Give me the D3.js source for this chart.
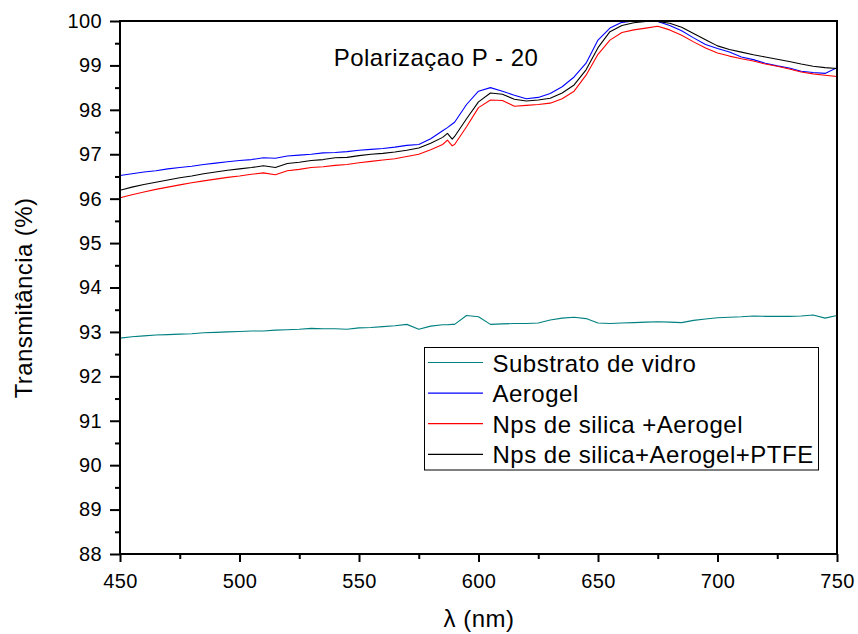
<!DOCTYPE html>
<html>
<head>
<meta charset="utf-8">
<script src="https://cdn.jsdelivr.net/npm/d3@7/dist/d3.min.js"></script>
<style>
  html, body { margin: 0; padding: 0; background: #fff; }
  svg { display: block; font-family: "Liberation Sans", Arial, Helvetica, sans-serif; }
</style>
</head>
<body>
<svg id="chart" width="858" height="634"></svg>
<script>
// Wavelength grid (nm) shared by every spectrum
const wavelength = [
  450,455,460,465,470,475,480,485,490,495,
  500,505,510,515,520,525,530,535,540,545,
  550,555,560,565,570,575,580,585,587,589,
  590,595,600,605,610,615,620,625,630,635,
  640,645,650,655,660,665,670,675,680,685,
  690,695,700,705,710,715,720,725,730,735,
  740,745,750
];

// Transmittance (%) for each sample
const substrato = [
  92.86,92.89,92.91,92.93,92.94,92.95,92.96,92.98,92.99,93.00,
  93.01,93.02,93.02,93.04,93.05,93.06,93.08,93.07,93.07,93.06,
  93.09,93.10,93.12,93.14,93.17,93.06,93.13,93.16,93.16,93.17,
  93.17,93.37,93.34,93.17,93.18,93.19,93.19,93.20,93.27,93.31,
  93.33,93.30,93.20,93.19,93.20,93.21,93.22,93.23,93.22,93.21,
  93.26,93.29,93.32,93.33,93.34,93.36,93.35,93.35,93.35,93.36,
  93.38,93.31,93.37
];
const aerogel = [
  96.52,96.56,96.60,96.63,96.67,96.70,96.73,96.77,96.80,96.83,
  96.86,96.88,96.92,96.91,96.96,96.98,97.00,97.03,97.04,97.06,
  97.09,97.11,97.13,97.16,97.20,97.22,97.35,97.53,97.60,97.68,
  97.72,98.12,98.42,98.50,98.42,98.33,98.25,98.28,98.37,98.52,
  98.74,99.05,99.57,99.84,99.97,100.0,100.0,99.99,99.90,99.78,
  99.62,99.47,99.38,99.30,99.19,99.13,99.05,98.99,98.94,98.87,
  98.84,98.82,98.95
];
const npsAerogel = [
  96.02,96.09,96.15,96.21,96.26,96.31,96.36,96.40,96.44,96.48,
  96.51,96.55,96.58,96.54,96.63,96.66,96.70,96.72,96.75,96.77,
  96.81,96.84,96.87,96.90,96.95,97.00,97.10,97.22,97.32,97.19,
  97.22,97.62,98.05,98.22,98.21,98.08,98.10,98.12,98.15,98.25,
  98.42,98.78,99.25,99.57,99.74,99.80,99.84,99.88,99.80,99.68,
  99.53,99.39,99.28,99.21,99.15,99.10,99.03,98.98,98.92,98.85,
  98.81,98.78,98.75
];
const npsAerogelPtfe = [
  96.19,96.26,96.32,96.37,96.42,96.47,96.51,96.56,96.60,96.64,
  96.67,96.70,96.74,96.70,96.79,96.82,96.86,96.88,96.92,96.93,
  96.97,97.00,97.02,97.05,97.09,97.14,97.25,97.38,97.47,97.34,
  97.40,97.80,98.18,98.38,98.35,98.24,98.20,98.22,98.26,98.38,
  98.56,98.90,99.40,99.76,99.90,99.96,99.99,99.99,99.95,99.86,
  99.72,99.58,99.44,99.36,99.30,99.24,99.19,99.14,99.09,99.03,
  98.98,98.95,98.93
];

const seriesNames = ["Substrato de vidro", "Aerogel", "Nps de silica +Aerogel", "Nps de silica+Aerogel+PTFE"];
const seriesColors = ["#008080", "#0000ff", "#ff0000", "#000000"];
const seriesValues = [substrato, aerogel, npsAerogel, npsAerogelPtfe];

const xTicks = [450, 500, 550, 600, 650, 700, 750];
const xMinorTicks = [475, 525, 575, 625, 675, 725];
const yTicks = [88, 89, 90, 91, 92, 93, 94, 95, 96, 97, 98, 99, 100];
const yMinorTicks = [88.5, 89.5, 90.5, 91.5, 92.5, 93.5, 94.5, 95.5, 96.5, 97.5, 98.5, 99.5];

const titleText = "Polarizaçao P - 20";
const xLabel = "λ (nm)";
const yLabel = "Transmitância (%)";

// Layout
const plot = { left: 120, right: 837, top: 21, bottom: 554 };
const svg = d3.select("#chart");

const x = d3.scaleLinear().domain([450, 750]).range([plot.left, plot.right]);
const y = d3.scaleLinear().domain([88, 100]).range([plot.bottom, plot.top]);

svg.append("defs").append("clipPath").attr("id", "plotClip")
  .append("rect")
  .attr("x", plot.left).attr("y", plot.top)
  .attr("width", plot.right - plot.left).attr("height", plot.bottom - plot.top);

// Spectra
const line = d3.line()
  .x((d, i) => x(wavelength[i]))
  .y(d => y(d));

const lines = svg.append("g").attr("clip-path", "url(#plotClip)");
seriesValues.forEach((vals, k) => {
  lines.append("path")
    .datum(vals)
    .attr("fill", "none")
    .attr("stroke", seriesColors[k])
    .attr("stroke-width", 1.1)
    .attr("stroke-linejoin", "round")
    .attr("d", line);
});

// Axes
function styleAxis(g) {
  g.selectAll(".domain").remove();
  g.selectAll(".tick line").attr("stroke", "#000").attr("stroke-width", 2);
  g.selectAll(".tick text").attr("fill", "#000").attr("font-size", 20)
    .attr("letter-spacing", 0.4)
    .attr("font-family", "'Liberation Sans', Arial, sans-serif");
}

svg.append("g")
  .attr("transform", `translate(0,${plot.bottom})`)
  .call(d3.axisBottom(x).tickValues(xTicks).tickSize(8).tickPadding(12).tickFormat(d3.format("d")))
  .call(styleAxis);
svg.append("g")
  .attr("transform", `translate(0,${plot.bottom})`)
  .call(d3.axisBottom(x).tickValues(xMinorTicks).tickSize(5).tickFormat(""))
  .call(styleAxis);

svg.append("g")
  .attr("transform", `translate(${plot.left},0)`)
  .call(d3.axisLeft(y).tickValues(yTicks).tickSize(10).tickPadding(8).tickFormat(d3.format("d")))
  .call(styleAxis);
svg.append("g")
  .attr("transform", `translate(${plot.left},0)`)
  .call(d3.axisLeft(y).tickValues(yMinorTicks).tickSize(5).tickFormat(""))
  .call(styleAxis);

// Frame
svg.append("rect")
  .attr("x", plot.left).attr("y", plot.top)
  .attr("width", plot.right - plot.left).attr("height", plot.bottom - plot.top)
  .attr("fill", "none").attr("stroke", "#000").attr("stroke-width", 2);

// Title inside the plot
svg.append("text")
  .attr("x", 436).attr("y", 65.5)
  .attr("text-anchor", "middle")
  .attr("font-size", 24)
  .attr("letter-spacing", 0.5)
  .text(titleText);

// Axis labels
svg.append("text")
  .attr("x", 479).attr("y", 627)
  .attr("text-anchor", "middle")
  .attr("font-size", 24)
  .attr("letter-spacing", 0.5)
  .text(xLabel);

svg.append("text")
  .attr("transform", "translate(32,298) rotate(-90)")
  .attr("text-anchor", "middle")
  .attr("font-size", 24)
  .attr("letter-spacing", 0.4)
  .text(yLabel);

// Legend
const legend = svg.append("g");
legend.append("rect")
  .attr("x", 424.5).attr("y", 347.5)
  .attr("width", 394).attr("height", 122.5)
  .attr("fill", "#fff").attr("stroke", "#000").attr("stroke-width", 1);

seriesNames.forEach((name, k) => {
  const base = 371.5 + k * 30.6;
  legend.append("line")
    .attr("x1", 428).attr("x2", 483)
    .attr("y1", base - 9).attr("y2", base - 9)
    .attr("stroke", seriesColors[k]).attr("stroke-width", 1.2);
  legend.append("text")
    .attr("x", 492.5).attr("y", base)
    .attr("font-size", 24)
    .attr("letter-spacing", 0.5)
    .text(name);
});
</script>
</body>
</html>
